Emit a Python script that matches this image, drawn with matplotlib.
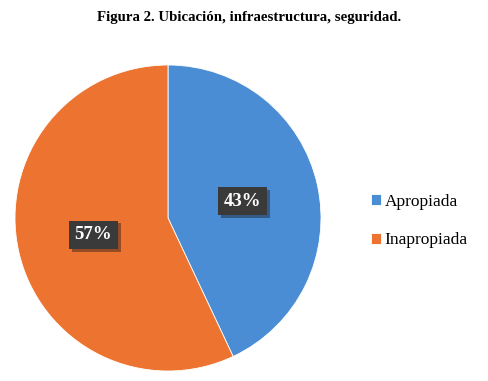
import matplotlib
matplotlib.use('Agg')
import matplotlib.pyplot as plt
import matplotlib.patheffects as pe

# data
categorias = ['Apropiada', 'Inapropiada']
porcentajes = [43, 57]
colores = ['#4A8DD4', '#ED7330']
titulo = 'Figura 2. Ubicación, infraestructura, seguridad.'

plt.rcParams['font.family'] = ['Liberation Serif', 'DejaVu Serif']

fig = plt.figure(figsize=(4.88, 3.81), dpi=100)
fig.patch.set_facecolor('white')

# pie axes: square in pixels
ax = fig.add_axes([15/488, 10/381, 306/488, 306/381])
wedges, texts, autotexts = ax.pie(porcentajes, colors=colores, startangle=90,
                                  counterclock=False, autopct='%1.0f%%',
                                  pctdistance=0.5, radius=1.0,
                                  wedgeprops={'linewidth': 0.6, 'edgecolor': 'white'})
ax.set_xlim(-1, 1)
ax.set_ylim(-1, 1)

for t in autotexts:
    t.set_color('white')
    t.set_fontsize(13.5)
    t.set_fontweight('bold')
    t.set_bbox(dict(boxstyle='square,pad=0.3', facecolor='#3a3a3a', edgecolor='none'))
    t.get_bbox_patch().set_path_effects([pe.SimplePatchShadow(offset=(2, -2), alpha=0.4),
                                         pe.Normal()])

fig.text(0.51, 0.955, titulo, ha='center', va='center', fontsize=10.7, fontweight='bold')

fig.legend(wedges, categorias, loc='center left', bbox_to_anchor=(0.728, 0.42),
           frameon=False, fontsize=12.5, handlelength=0.6, handleheight=0.6,
           handletextpad=0.2, labelspacing=1.3)

fig.savefig('out.png', dpi=100)
